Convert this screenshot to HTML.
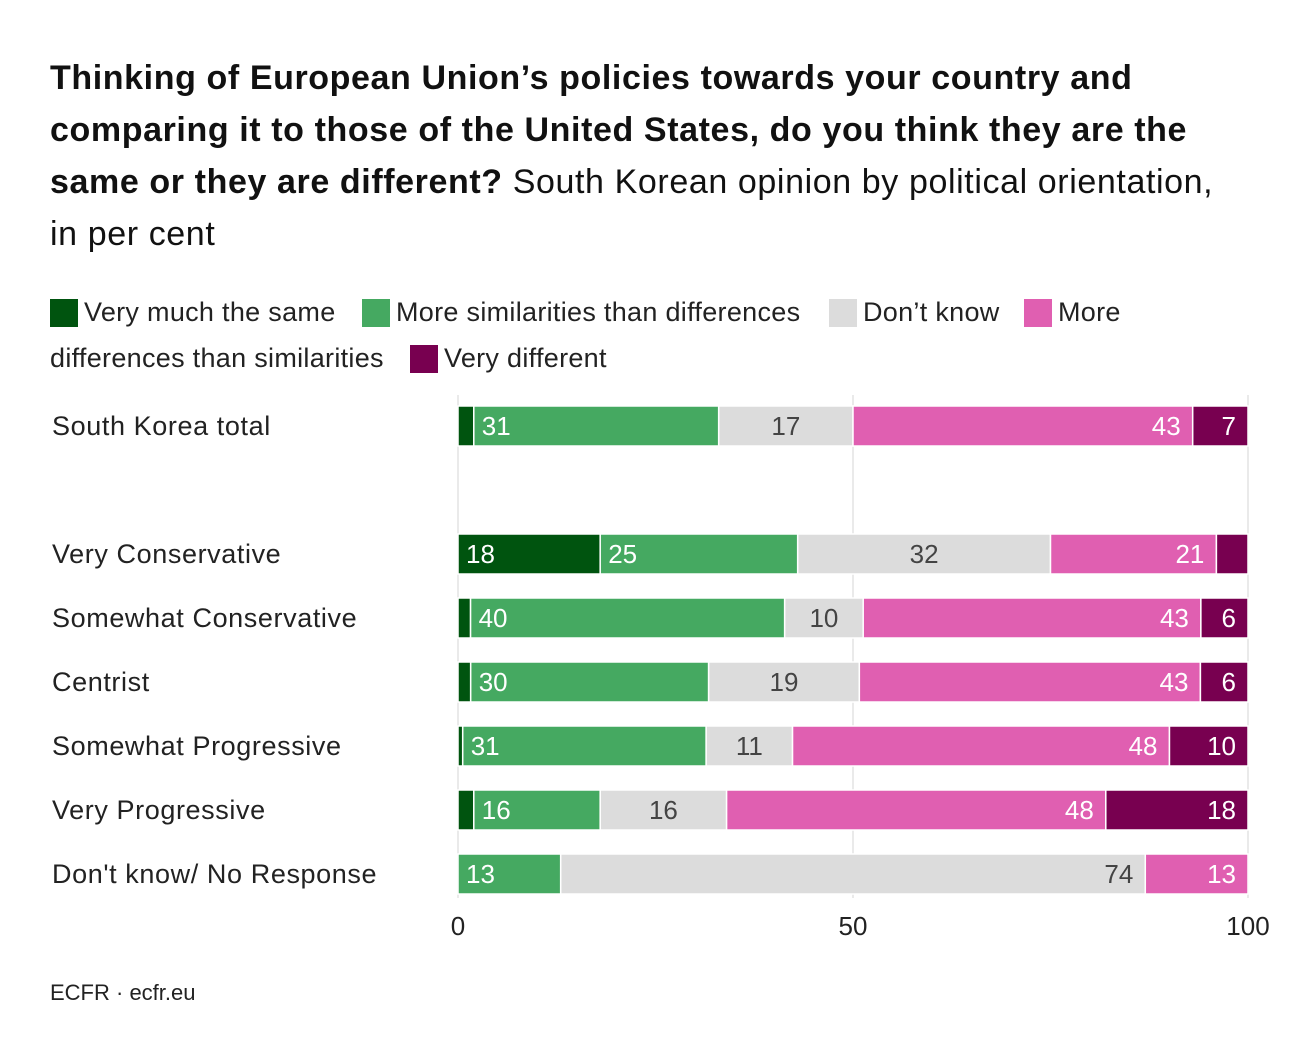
<!DOCTYPE html>
<html><head><meta charset="utf-8"><style>
body{margin:0;background:#fff;font-family:"Liberation Sans",sans-serif;}
#wrap{position:relative;width:1300px;height:1062px;overflow:hidden;}
#title{position:absolute;left:50px;top:52px;width:1240px;font-size:34px;line-height:52px;color:#111;white-space:nowrap;letter-spacing:0.6px;}
#title b{font-weight:700;}
.leg{position:absolute;font-size:27px;color:#222;display:flex;align-items:center;letter-spacing:0.3px;}
.sw{width:28px;height:28px;display:inline-block;margin-right:6px;}
#src{position:absolute;left:50px;top:980px;font-size:22px;color:#222;}
</style></head><body>
<div id="wrap">
<div id="title"><b>Thinking of European Union’s policies towards your country and</b><br><b>comparing it to those of the United States, do you think they are the</b><br><b>same or they are different?</b> South Korean opinion by political orientation,<br>in per cent</div>
<div class="leg" style="left:50px;top:297px"><span class="sw" style="background:#00540f"></span>Very much the same</div>
<div class="leg" style="left:362px;top:297px"><span class="sw" style="background:#45a961"></span>More similarities than differences</div>
<div class="leg" style="left:829px;top:297px"><span class="sw" style="background:#dcdcdc"></span>Don’t know</div>
<div class="leg" style="left:1024px;top:297px"><span class="sw" style="background:#e05fb1"></span>More</div>
<div class="leg" style="left:50px;top:343px">differences than similarities</div>
<div class="leg" style="left:410px;top:343px"><span class="sw" style="background:#780050"></span>Very different</div>
<svg id="svg" width="1300" height="1062" style="position:absolute;left:0;top:0"></svg>
<div id="src">ECFR · ecfr.eu</div>
</div>
<script>
const categories=["South Korea total","Very Conservative","Somewhat Conservative","Centrist","Somewhat Progressive","Very Progressive","Don't know/ No Response"];
const verySame=[2,18,1.6,1.6,0.6,2,0];
const moreSimilar=[31,25,40,30,31,16,13];
const dontKnow=[17,32,10,19,11,16,74];
const moreDifferent=[43,21,43,43,48,48,13];
const veryDifferent=[7,4,6,6,10,18,0];
const ticks=[0,50,100];
const series=[verySame,moreSimilar,dontKnow,moreDifferent,veryDifferent];
const colors=["#00540f","#45a961","#dcdcdc","#e05fb1","#780050"];
const rowY=[426,554,618,682,746,810,874];
const x=v=>458+v*7.9;
const NS="http://www.w3.org/2000/svg";
const svg=document.getElementById('svg');
function mk(t,a){const e=document.createElementNS(NS,t);for(const k in a)e.setAttribute(k,a[k]);svg.appendChild(e);return e;}
ticks.forEach(t=>{
 const l=mk('line',{x1:x(t),x2:x(t),y1:395,y2:898,stroke:'#e4e4e4','stroke-width':1.5});
 
 
 const tx=mk('text',{x:x(t),y:935,'font-size':26,'text-anchor':'middle',fill:'#222','font-family':'Liberation Sans'});
 tx.textContent=t;
 
 
});
categories.forEach((c,i)=>{
 const cy=rowY[i];
 const lab=mk('text',{x:52,y:cy+9,'font-size':27,fill:'#222','font-family':'Liberation Sans','letter-spacing':0.6});
 lab.textContent=c;
 
 
 let total=0;series.forEach(s=>total+=s[i]);
 const k=100/total;
 let cum=0;
 series.forEach((s,j)=>{
  const v=s[i];if(v<=0){return;}
  const x0=x(cum*k),x1=x((cum+v)*k);cum+=v;
  const r=mk('rect',{x:x0,y:cy-20,width:Math.max(0,x1-x0),height:40,fill:colors[j],stroke:'#fff','stroke-width':1.5});
  
  
  if(v>=5){
   let tx,anchor;
   if(j<2){tx=x0+8;anchor='start';}
   else if(j==2&&x1-x0<400){tx=(x0+x1)/2;anchor='middle';}
   else{tx=x1-12;anchor='end';}
   const t=mk('text',{x:tx,y:cy+9,'font-size':26,'text-anchor':anchor,fill:j==2?'#444':'#fff','font-family':'Liberation Sans'});
   t.textContent=Math.round(v);
   
   
  }
 });
});
</script>
</body></html>
